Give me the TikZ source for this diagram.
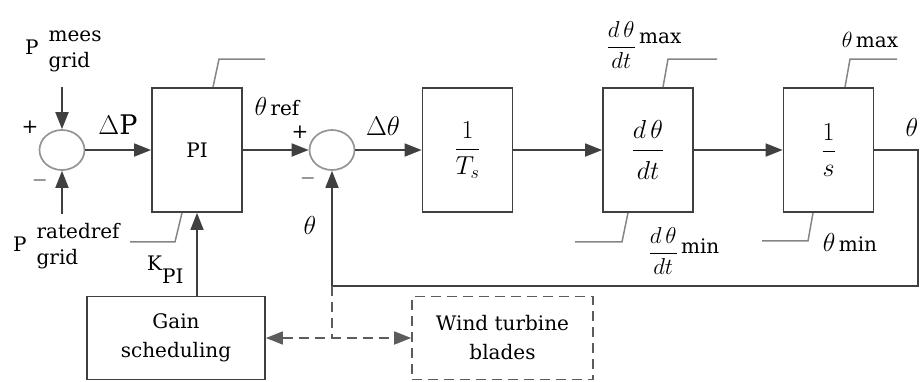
\RequirePackage{fix-cm}
\documentclass[tikz,border=0pt]{standalone}
\usepackage{amsmath}
\usepackage{fontspec}
\setmainfont{DejaVu Serif}
\usetikzlibrary{arrows.meta,shapes.geometric}
\definecolor{myline}{rgb}{0.25,0.25,0.25}
\definecolor{mysat}{rgb}{0.52,0.52,0.52}
\definecolor{mysum}{rgb}{0.58,0.58,0.58}
\newcommand{\lblsize}{\fontsize{20}{26}\selectfont}
\newcommand{\bigsize}{\fontsize{26}{30}\selectfont}
\newcommand{\fracsize}{\fontsize{23}{27}\selectfont}

\begin{document}
\begin{tikzpicture}[x=1pt,y=-1pt,every node/.append style={font=\lblsize},
  >={Triangle[length=17pt,width=13pt]},
  block/.style={draw=myline,line width=1.8pt,minimum width=90pt,minimum height=124pt,inner sep=0pt},
  mathblock/.style={block,font=\bigsize},
  sum/.style={ellipse,draw=mysum,line width=1.7pt,minimum width=45pt,minimum height=40pt,inner sep=0pt},
  wire/.style={draw=myline,line width=1.8pt},
  sat/.style={draw=mysat,line width=1.5pt},
  dashline/.style={draw=myline!85,line width=1.6pt,dash pattern=on 10pt off 6pt},
  lbl/.style={inner sep=0pt}]
  \useasboundingbox (0,0) rectangle (920,381);

  \node[sum] (sum1) at (62,150) {};
  \node[block] (pi) at (197,150) {PI};
  \node[sum] (sum2) at (332,150) {};
  \node[mathblock] (ts) at (467.5,150) {$\dfrac{1}{T_s}$};
  \node[mathblock] (rate) at (648,150) {$\dfrac{\rule[-8pt]{0pt}{8pt}d\,\theta}{\rule{0pt}{26pt}dt}$};
  \node[mathblock] (integ) at (828.5,150) {$\dfrac{1}{s}$};
  \node[block,minimum width=178pt,minimum height=83pt,align=center,font=\fontsize{20}{29}\selectfont] (gain) at (176,338) {Gain\\scheduling};
  \node[block,dashline,minimum width=181pt,minimum height=83pt,align=center,font=\fontsize{20}{29}\selectfont] (wind) at (502.5,338) {Wind turbine\\blades};

  \coordinate (pin) at (62,87);
  \coordinate (pref) at (62,214);
  \coordinate (outc) at (918,150);
  \coordinate (fbc) at (918,286);
  \coordinate (fbj) at (332,286);
  \coordinate (tap) at (332,338);

  \draw[wire,->] (pin) -- (sum1.north);
  \draw[wire,->] (pref) -- (sum1.south);
  \draw[wire,->] (sum1.east) -- (pi.west);
  \draw[wire,->] (pi.east) -- (sum2.west);
  \draw[wire,->] (sum2.east) -- (ts.west);
  \draw[wire,->] (ts.east) -- (rate.west);
  \draw[wire,->] (rate.east) -- (integ.west);
  \draw[wire] (integ.east) -- (outc) -- (fbc) -- (fbj);
  \draw[wire,->] (fbj) -- (sum2.south);
  \draw[wire,->] (gain.north -| pi.south) -- (pi.south);
  \draw[dashline,<->] (gain.east) -- (wind.west);
  \draw[dashline] (fbj) -- (tap);

  \draw[sat] ([xshift=16pt]pi.north) -- ++(6,-28) -- ++(46,0);
  \draw[sat] ([xshift=-15pt]pi.south) -- ++(-7,29) -- ++(-45,0);
  \draw[sat] ([xshift=15pt]rate.north) -- ++(5,-28) -- ++(49,0);
  \draw[sat] ([xshift=-20pt]rate.south) -- ++(-6,29) -- ++(-47,0);
  \draw[sat] ([xshift=16.5pt]integ.north) -- ++(5,-28) -- ++(47,0);
  \draw[sat] ([xshift=-15.5pt]integ.south) -- ++(-5,28) -- ++(-46,0);

  \node[lbl,anchor=west] (pmees) at (25,49) {P\hspace{10pt}\begin{tabular}{@{}l@{}}mees\\grid\end{tabular}};
  \node[lbl,anchor=west] (prated) at (13,246) {P\hspace{10pt}\begin{tabular}{@{}l@{}}ratedref\\grid\end{tabular}};
  \node[lbl] (plus1) at (30,127) {+};
  \node[lbl] (minus1) at (40,180) {$-$};
  \node[lbl,font=\fontsize{27}{30}\selectfont] (dp) at (118,125) {$\Delta$P};
  \node[lbl] (thref) at (277,107) {{\bigsize$\theta$}\,ref};
  \node[lbl] (plus2) at (300,132) {+};
  \node[lbl] (minus2) at (308,178) {$-$};
  \node[lbl,font=\fontsize{27}{30}\selectfont] (dth) at (383,126) {$\Delta\theta$};
  \node[lbl,font=\bigsize] (thfb) at (310,225) {$\theta$};
  \node[lbl,anchor=base west] (kpi) at (147,270) {K\raisebox{-13pt}{PI}};
  \node[lbl] (ratemax) at (644,45) {{\fracsize$\dfrac{d\,\theta}{dt}$}\,\raisebox{9pt}{max}};
  \node[lbl] (ratemin) at (684,251) {{\fracsize$\dfrac{d\,\theta}{dt}$}\,\raisebox{5pt}{min}};
  \node[lbl] (thmax) at (870,40) {{\fontsize{22}{26}\selectfont$\theta$}\,max};
  \node[lbl] (thmin) at (850,242) {{\bigsize$\theta$}\,min};
  \node[lbl,font=\bigsize] (thout) at (912,127) {$\theta$};
\end{tikzpicture}
\end{document}
